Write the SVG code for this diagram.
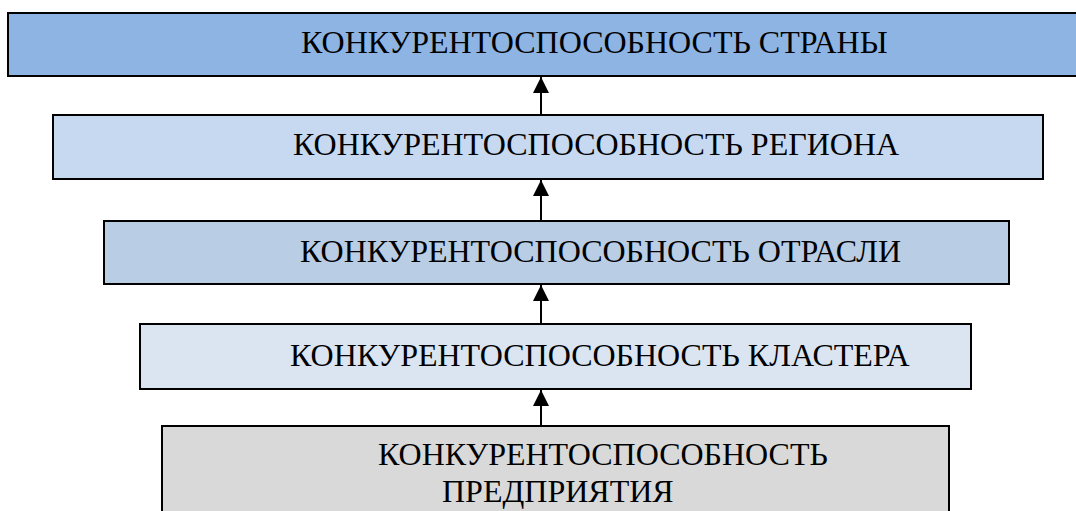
<svg xmlns="http://www.w3.org/2000/svg" width="1076" height="511" viewBox="0 0 1076 511">
  <defs>
    <style>
      .box { stroke: #000; stroke-width: 2; }
      .lbl { font-family: "Liberation Serif", "Times New Roman", serif; font-size: 32px; fill: #000; }
      .conn { stroke: #000; stroke-width: 2; fill: none; }
    </style>
    <!-- arrowhead drawn along +x, tip at the line end -->
    <marker id="head" viewBox="0 0 16 16" refX="16" refY="8" markerWidth="16" markerHeight="16" markerUnits="userSpaceOnUse" orient="auto">
      <path d="M0,0 L16,8 L0,16 Z" fill="#000"/>
    </marker>
  </defs>

  <g id="country">
    <rect class="box" x="8" y="13" width="1080" height="63" fill="#8EB4E3"/>
    <text class="lbl" x="301" y="53">КОНКУРЕНТОСПОСОБНОСТЬ СТРАНЫ</text>
  </g>

  <g id="region">
    <rect class="box" x="53" y="115" width="990" height="64" fill="#C6D9F1"/>
    <text class="lbl" x="293" y="155">КОНКУРЕНТОСПОСОБНОСТЬ РЕГИОНА</text>
  </g>

  <g id="industry">
    <rect class="box" x="104" y="221" width="905" height="63" fill="#B9CDE5"/>
    <text class="lbl" x="300" y="262">КОНКУРЕНТОСПОСОБНОСТЬ ОТРАСЛИ</text>
  </g>

  <g id="cluster">
    <rect class="box" x="140" y="324" width="831" height="65" fill="#DBE5F1"/>
    <text class="lbl" x="290" y="366">КОНКУРЕНТОСПОСОБНОСТЬ КЛАСТЕРА</text>
  </g>

  <g id="enterprise">
    <rect class="box" x="162" y="426" width="787" height="100" fill="#D9D9D9"/>
    <text class="lbl" x="378" y="465">КОНКУРЕНТОСПОСОБНОСТЬ</text>
    <text class="lbl" x="442" y="502">ПРЕДПРИЯТИЯ</text>
  </g>

  <g id="connectors">
    <line class="conn" x1="541" y1="114" x2="541" y2="77" marker-end="url(#head)"/>
    <line class="conn" x1="541" y1="220" x2="541" y2="180" marker-end="url(#head)"/>
    <line class="conn" x1="541" y1="323" x2="541" y2="285" marker-end="url(#head)"/>
    <line class="conn" x1="541" y1="425" x2="541" y2="390" marker-end="url(#head)"/>
  </g>
</svg>
